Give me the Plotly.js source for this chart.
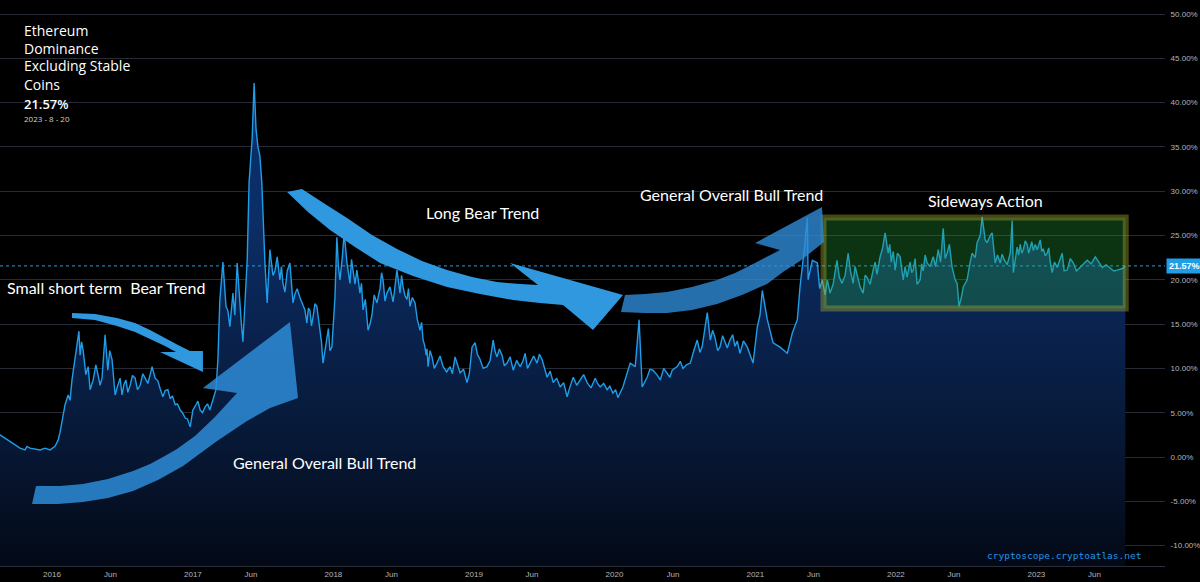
<!DOCTYPE html>
<html>
<head>
<meta charset="utf-8">
<script src="https://cdn.plot.ly/plotly-3.0.1.min.js"></script>
<style>
  html, body { margin: 0; padding: 0; background: #000; }
  #chart { width: 1200px; height: 582px; }
</style>
</head>
<body>
<div id="chart"></div>
<script>
// ETH dominance (excluding stablecoins), %
const d2015 = ['2015-08-19','2015-09-14','2015-10-10','2015-10-23','2015-10-28','2015-11-05','2015-11-18','2015-12-01','2015-12-14','2015-12-27'];
const v2015 = [2.5, 1.7, 1.0, 0.8, 1.2, 1.0, 0.9, 0.8, 1.0, 0.8];

const d2016 = [
  '2016-01-09','2016-01-17','2016-01-22','2016-01-27','2016-02-04','2016-02-12','2016-02-17','2016-02-22','2016-03-01','2016-03-06',
  '2016-03-11','2016-03-14','2016-03-18','2016-03-22','2016-03-29','2016-04-04','2016-04-09','2016-04-17','2016-04-24','2016-05-01',
  '2016-05-05','2016-05-10','2016-05-18','2016-05-25','2016-05-30','2016-06-05','2016-06-09','2016-06-13','2016-06-20','2016-06-26',
  '2016-07-01','2016-07-06','2016-07-11','2016-07-16','2016-07-22','2016-07-28','2016-08-04','2016-08-10','2016-08-17','2016-08-24',
  '2016-08-30','2016-09-06','2016-09-12','2016-09-17','2016-09-25','2016-10-02','2016-10-08','2016-10-15','2016-10-21','2016-10-28',
  '2016-11-03','2016-11-09','2016-11-16','2016-11-22','2016-11-29','2016-12-05','2016-12-12','2016-12-18','2016-12-25'];
const v2016 = [
  1.2, 1.9, 2.8, 4.2, 5.9, 7.0, 6.4, 8.7, 11.0, 12.5,
  14.2, 11.5, 13.0, 12.0, 9.3, 10.2, 7.6, 8.7, 10.4, 9.0,
  8.1, 8.9, 13.8, 9.8, 12.0, 11.0, 9.0, 7.0, 8.1, 8.9,
  7.0, 8.2, 8.7, 7.3, 8.1, 9.2, 8.9, 7.6, 8.1, 9.4,
  8.9, 8.3, 9.3, 10.2, 8.9, 8.6, 7.7, 6.8, 7.5, 7.6,
  6.6, 6.9, 5.9, 6.0, 5.3, 5.0, 4.4, 4.3, 3.4];

const d2017 = [
  '2017-01-01','2017-01-09','2017-01-14','2017-01-20','2017-01-26','2017-02-01','2017-02-08','2017-02-14','2017-02-22','2017-03-02',
  '2017-03-07','2017-03-12','2017-03-20','2017-03-28','2017-04-02','2017-04-07','2017-04-15','2017-04-20','2017-04-26','2017-05-03',
  '2017-05-07','2017-05-11','2017-05-16','2017-05-22','2017-05-27','2017-06-04','2017-06-09','2017-06-14','2017-06-19','2017-06-24',
  '2017-06-29','2017-07-02','2017-07-07','2017-07-13','2017-07-20','2017-07-28','2017-08-02','2017-08-08','2017-08-15','2017-08-19',
  '2017-08-23','2017-08-28','2017-09-03','2017-09-10','2017-09-18','2017-09-23','2017-09-29','2017-10-06','2017-10-14','2017-10-19',
  '2017-10-24','2017-10-28','2017-11-01','2017-11-05','2017-11-09','2017-11-14','2017-11-19','2017-11-23','2017-11-27','2017-12-01',
  '2017-12-05','2017-12-10','2017-12-15','2017-12-19','2017-12-23','2017-12-28'];
const v2017 = [
  5.3, 5.9, 6.3, 5.3, 5.0, 5.6, 6.0, 5.3, 6.4, 7.6,
  11.0, 17.7, 22.0, 17.0, 16.5, 14.7, 18.5, 16.0, 21.9, 17.0,
  15.0, 13.0, 18.0, 22.2, 31.0, 36.0, 42.2, 37.0, 35.0, 34.0,
  31.0, 27.0, 22.0, 17.4, 23.4, 20.5, 21.0, 22.6, 20.0, 21.5,
  19.6, 18.6, 21.0, 21.9, 17.4, 18.4, 19.0, 18.0, 17.0, 16.6,
  15.1, 16.8, 16.5, 14.8, 15.8, 17.3, 17.0, 15.5, 14.0, 13.0,
  10.6, 12.0, 13.5, 14.5, 12.0, 12.4];

const d2018 = [
  '2018-01-05','2018-01-10','2018-01-14','2018-01-18','2018-01-24','2018-01-29','2018-02-05','2018-02-09','2018-02-13','2018-02-17',
  '2018-02-21','2018-02-26','2018-03-03','2018-03-07','2018-03-11','2018-03-15','2018-03-19','2018-03-25','2018-04-01','2018-04-06',
  '2018-04-11','2018-04-17','2018-04-24','2018-05-02','2018-05-06','2018-05-10','2018-05-15','2018-05-20','2018-05-28','2018-06-05',
  '2018-06-10','2018-06-15','2018-06-23','2018-06-27','2018-07-01','2018-07-06','2018-07-11','2018-07-15','2018-07-19','2018-07-25',
  '2018-08-01','2018-08-07','2018-08-14','2018-08-18','2018-08-22','2018-08-26','2018-08-30','2018-09-01','2018-09-04','2018-09-09',
  '2018-09-14','2018-09-20','2018-09-27','2018-10-05','2018-10-13','2018-10-22','2018-10-31','2018-11-06','2018-11-13','2018-11-19',
  '2018-11-26','2018-12-05','2018-12-14','2018-12-20','2018-12-27'];
const v2018 = [
  18.0, 24.8, 21.5, 20.0, 22.5, 25.3, 22.0, 20.5, 19.6, 22.3,
  21.0, 19.5, 21.1, 20.0, 18.5, 19.6, 16.6, 17.8, 14.3, 15.0,
  16.0, 18.3, 17.4, 19.0, 20.8, 20.0, 17.6, 18.5, 19.2, 17.5,
  19.5, 21.1, 18.5, 20.5, 19.2, 18.2, 17.8, 19.0, 17.0, 18.0,
  17.4, 15.5, 14.3, 15.2, 13.2, 12.6, 11.5, 12.2, 10.2, 12.0,
  11.3, 10.0, 10.6, 11.4, 10.2, 9.6, 10.2, 9.4, 11.3, 10.4,
  9.5, 9.9, 8.4, 9.4, 12.4];

const d2019 = [
  '2019-01-04','2019-01-10','2019-01-17','2019-01-25','2019-02-04','2019-02-12','2019-02-20','2019-02-25','2019-03-02','2019-03-08',
  '2019-03-15','2019-03-21','2019-03-28','2019-04-05','2019-04-13','2019-04-22','2019-05-01','2019-05-08','2019-05-14','2019-05-20',
  '2019-05-27','2019-06-05','2019-06-14','2019-06-20','2019-06-27','2019-07-03','2019-07-10','2019-07-18','2019-07-26','2019-08-04',
  '2019-08-13','2019-08-22','2019-08-31','2019-09-08','2019-09-16','2019-09-25','2019-10-04','2019-10-13','2019-10-22','2019-11-01',
  '2019-11-12','2019-11-18','2019-11-25','2019-12-04','2019-12-13','2019-12-20','2019-12-28'];
const v2019 = [
  12.9, 11.6, 11.0, 10.0, 10.2, 10.9, 13.2, 11.9, 11.3, 12.2,
  11.5, 10.3, 10.6, 11.3, 9.8, 10.9, 10.2, 10.8, 11.7, 10.0,
  10.6, 11.4, 10.6, 11.6, 11.0, 10.0, 9.0, 9.7, 8.4, 8.9,
  7.9, 8.4, 6.8, 8.0, 9.0, 8.1, 8.7, 9.3, 8.4, 7.8,
  8.9, 8.3, 7.9, 8.3, 7.6, 8.0, 7.2];

const d2020 = [
  '2020-01-04','2020-01-10','2020-01-17','2020-01-23','2020-02-03','2020-02-11','2020-02-24','2020-03-05','2020-03-13','2020-03-26',
  '2020-04-02','2020-04-10','2020-04-20','2020-04-29','2020-05-08','2020-05-17','2020-05-24','2020-05-30','2020-06-12','2020-06-20',
  '2020-06-27','2020-07-06','2020-07-16','2020-07-25','2020-08-03','2020-08-10','2020-08-16','2020-08-29','2020-09-06','2020-09-12',
  '2020-09-18','2020-09-25','2020-10-01','2020-10-08','2020-10-14','2020-10-20','2020-10-27','2020-11-03','2020-11-09','2020-11-15',
  '2020-11-22','2020-12-01','2020-12-11','2020-12-18','2020-12-26'];
const v2020 = [
  7.6, 6.7, 7.3, 7.9, 9.5, 10.6, 10.2, 15.5, 7.9, 9.0,
  9.9, 9.8, 9.3, 8.7, 10.0, 9.5, 9.0, 9.8, 10.2, 10.8,
  10.0, 10.4, 10.6, 12.0, 13.2, 11.8, 12.5, 16.3, 13.2, 14.3,
  13.5, 12.0, 12.4, 13.7, 13.0, 12.3, 13.2, 13.8, 12.5, 13.1,
  11.7, 13.1, 12.4, 11.5, 10.6];

const d2021 = [
  '2021-01-06','2021-01-13','2021-01-19','2021-01-26','2021-02-01','2021-02-16','2021-03-06','2021-03-25','2021-04-07','2021-04-20',
  '2021-04-27','2021-05-08','2021-05-16','2021-05-18','2021-05-29','2021-06-11','2021-06-17','2021-06-24','2021-07-01','2021-07-07',
  '2021-07-14','2021-07-22','2021-07-27','2021-08-01','2021-08-07','2021-08-14','2021-08-22','2021-08-30','2021-09-05','2021-09-12',
  '2021-09-17','2021-09-22','2021-09-30','2021-10-08','2021-10-13','2021-10-18','2021-10-26','2021-11-03','2021-11-08','2021-11-13',
  '2021-11-21','2021-11-27','2021-12-04','2021-12-12','2021-12-16','2021-12-20','2021-12-25','2021-12-30'];
const v2021 = [
  14.7, 16.0, 18.8, 17.0, 15.5, 12.9, 12.4, 11.7, 14.0, 15.5,
  19.2, 23.4, 27.0, 20.0, 22.2, 21.9, 19.0, 20.0, 18.3, 20.0,
  18.5, 19.5, 21.0, 22.2, 20.3, 19.6, 20.5, 23.0, 21.0, 19.6,
  21.5, 20.5, 19.2, 18.5, 20.5, 20.3, 19.5, 21.1, 22.0, 20.6,
  22.6, 23.5, 25.3, 23.0, 24.0, 22.0, 23.2, 21.1];

const d2022 = [
  '2022-01-05','2022-01-12','2022-01-16','2022-01-20','2022-01-25','2022-01-30','2022-02-07','2022-02-11','2022-02-15','2022-02-20',
  '2022-02-25','2022-03-05','2022-03-09','2022-03-13','2022-03-18','2022-03-23','2022-03-31','2022-04-08','2022-04-14','2022-04-21',
  '2022-04-27','2022-05-04','2022-05-09','2022-05-14','2022-05-20','2022-05-27','2022-06-04','2022-06-09','2022-06-14','2022-06-20',
  '2022-06-25','2022-07-05','2022-07-13','2022-07-18','2022-07-26','2022-07-31','2022-08-08','2022-08-13','2022-08-21','2022-08-26',
  '2022-09-03','2022-09-08','2022-09-16','2022-09-22','2022-09-29','2022-10-04','2022-10-09','2022-10-17','2022-10-25','2022-10-30',
  '2022-11-02','2022-11-07','2022-11-12','2022-11-16','2022-11-20','2022-11-24','2022-11-28','2022-12-03','2022-12-08','2022-12-12',
  '2022-12-16','2022-12-20','2022-12-24','2022-12-29'];
const v2022 = [
  23.0, 22.6, 21.0, 20.0, 21.5, 20.3, 22.0, 20.8, 21.1, 22.4,
  19.5, 20.0, 21.8, 21.0, 22.8, 21.9, 21.5, 22.6, 21.5, 23.4,
  22.0, 25.8, 22.4, 23.0, 24.0, 21.4, 20.0, 19.6, 17.0, 18.0,
  19.2, 20.0, 22.0, 23.0, 22.5, 24.2, 25.0, 27.1, 24.5, 24.2,
  25.0, 25.3, 21.9, 22.8, 21.9, 22.9, 22.3, 21.7, 23.0, 26.7,
  20.8, 22.5, 23.7, 22.8, 24.0, 23.0, 23.4, 24.4, 24.0, 23.0,
  23.7, 24.3, 23.3, 24.0];

const d2023 = [
  '2023-01-03','2023-01-07','2023-01-11','2023-01-15','2023-01-19','2023-01-24','2023-01-29','2023-02-02','2023-02-06','2023-02-11',
  '2023-02-17','2023-02-24','2023-03-02','2023-03-09','2023-03-14','2023-03-22','2023-03-30','2023-04-07','2023-04-15','2023-04-25',
  '2023-05-04','2023-05-13','2023-05-23','2023-06-03','2023-06-12','2023-06-21','2023-07-01','2023-07-12','2023-07-21','2023-07-30',
  '2023-08-14','2023-08-20'];
const v2023 = [
  23.4, 24.0, 24.5, 23.2, 23.5, 22.7, 23.0, 23.6, 22.0, 20.8,
  22.0, 21.4, 22.2, 23.0, 21.0, 21.1, 22.4, 21.9, 21.0, 21.4,
  21.8, 22.2, 21.8, 22.6, 22.0, 21.4, 21.7, 21.3, 21.0, 21.1,
  21.3, 21.57];

const dates = [].concat(d2015, d2016, d2017, d2018, d2019, d2020, d2021, d2022, d2023);
const dominance = [].concat(v2015, v2016, v2017, v2018, v2019, v2020, v2021, v2022, v2023);
const lastValue = dominance[dominance.length - 1];
const lastDate = '2023 - 8 - 20';
const titleLines = ['Ethereum', 'Dominance', 'Excluding Stable', 'Coins'];

const yTickVals = [-10, -5, 0, 5, 10, 15, 20, 25, 30, 35, 40, 45, 50];
const yTickText = yTickVals.map(v => v.toFixed(2) + '%');
const xTickVals = ['2016-01-01','2016-06-01','2017-01-01','2017-06-01','2018-01-01','2018-06-01','2019-01-01','2019-06-01',
                   '2020-01-01','2020-06-01','2021-01-01','2021-06-01','2022-01-01','2022-06-01','2023-01-01','2023-06-01'];
const xTickText = ['2016','Jun','2017','Jun','2018','Jun','2019','Jun','2020','Jun','2021','Jun','2022','Jun','2023','Jun'];

const yMin = -12.3, yMax = 51.58;

// picture pixels -> paper fractions (plot area 1165 x 566)
const W = 1165, H = 566;
const px = x => x / W;
const py = y => 1 - y / H;
function poly(pts) {
  return 'M' + pts.map(p => px(p[0]).toFixed(4) + ',' + py(p[1]).toFixed(4)).join(' L') + ' Z';
}

const arrowSmallBear = [[72,313],[95,314],[117,318],[135,323],[150,330],[165,338],[178,345],[190,351],[203,351],[203,372],
  [160,352],[176,352],[165,346],[150,339],[135,332],[117,326],[95,320],[72,318]];
const arrowLowBull = [[36,486],[60,486],[83,484],[108,479],[133,471],[150,464],[163,457],[177,449],[195,436],[215,417],[237,393],
  [203,388],[290,322],[298,398],[270,408],[247,421],[217,441],[183,466],[158,480],[133,491],[108,498],[83,502],[58,504],[32,504]];
const arrowLongBear = [[287,192],[302,189],[325,204],[347,218],[372,235],[397,249],[422,261],[447,270],[472,277],[497,282],[520,284],[538,285],
  [510,263],[623,295],[593,330],[563,305],[540,303],[513,300],[480,294],[447,287],[413,276],[380,263],[355,247],[330,230],[308,212]];
const arrowHighBull = [[625,295],[645,294],[667,292],[692,287],[717,280],[735,273],[753,264],[780,250],[755,243],[822,207],[824,242],
  [800,261],[783,272],[767,284],[742,295],[717,304],[692,310],[667,313],[645,313],[621,312]];

const traces = [
  {
    x: [dates[0], dates[dates.length - 1]],
    y: [yMin, yMin],
    mode: 'lines',
    line: { width: 0 },
    hoverinfo: 'skip',
    showlegend: false
  },
  {
    x: dates,
    y: dominance,
    type: 'scatter',
    mode: 'lines',
    line: { color: '#1f9de6', width: 1.4 },
    fill: 'tonexty',
    fillcolor: 'rgba(12,40,90,0.8)',
    fillgradient: {
      type: 'vertical',
      start: yMin,
      stop: 28,
      colorscale: [[0, 'rgb(3,9,22)'], [0.35, 'rgb(7,24,54)'], [1, 'rgb(12,46,104)']]
    },
    showlegend: false
  }
];

const labelFont = { family: 'Lato, "Open Sans", sans-serif', size: 16, color: '#ffffff' };
function note(text, x, y) {
  return { text: text, xref: 'paper', yref: 'paper', x: px(x), y: py(y), xanchor: 'center', yanchor: 'middle',
           showarrow: false, font: labelFont };
}
function corner(text, y, font) {
  return { text: text, xref: 'paper', yref: 'paper', x: px(22), y: py(y), xanchor: 'left', yanchor: 'middle',
           showarrow: false, font: font };
}
const titleFont = { family: '"Open Sans", sans-serif', size: 14, color: '#ffffff' };

const axisFont = { family: '"Liberation Sans", sans-serif', size: 8, color: '#b2b5be' };

const layout = {
  width: 1200,
  height: 582,
  paper_bgcolor: '#000000',
  plot_bgcolor: '#000000',
  margin: { l: 0, r: 35, t: 0, b: 16 },
  showlegend: false,
  xaxis: {
    type: 'date',
    range: ['2015-08-19', '2023-12-01'],
    tickvals: xTickVals,
    ticktext: xTickText,
    tickfont: axisFont,
    showgrid: false,
    zeroline: false,
    showline: true,
    linecolor: '#2a2e39',
    ticks: 'outside',
    ticklen: 0,
    tickcolor: '#2a2e39'
  },
  yaxis: {
    side: 'right',
    range: [yMin, yMax],
    tickvals: yTickVals,
    ticktext: yTickText,
    tickfont: axisFont,
    showgrid: true,
    gridcolor: '#262b35',
    gridwidth: 1,
    zeroline: false,
    ticks: 'outside',
    ticklen: 3,
    tickcolor: '#000000'
  },
  shapes: [
    { type: 'line', xref: 'paper', yref: 'y', x0: 0, x1: 1, y0: lastValue, y1: lastValue,
      line: { color: '#1f9de6', width: 1, dash: 'dot' }, layer: 'above' },
    { type: 'rect', xref: 'x', yref: 'y', x0: '2021-06-27', x1: '2023-08-21', y0: 16.76, y1: 27.03,
      fillcolor: 'rgba(40,170,60,0.3)', line: { color: 'rgba(170,170,50,0.4)', width: 6 }, layer: 'above' },
    { type: 'path', xref: 'paper', yref: 'paper', path: poly(arrowSmallBear),
      fillcolor: 'rgba(48,152,222,1)', line: { width: 0 }, layer: 'above' },
    { type: 'path', xref: 'paper', yref: 'paper', path: poly(arrowLowBull),
      fillcolor: 'rgba(46,140,215,0.85)', line: { width: 0 }, layer: 'above' },
    { type: 'path', xref: 'paper', yref: 'paper', path: poly(arrowLongBear),
      fillcolor: 'rgba(48,152,222,1)', line: { width: 0 }, layer: 'above' },
    { type: 'path', xref: 'paper', yref: 'paper', path: poly(arrowHighBull),
      fillcolor: 'rgba(46,140,215,0.8)', line: { width: 0 }, layer: 'above' }
  ],
  annotations: [
    corner(titleLines[0], 30, titleFont),
    corner(titleLines[1], 48, titleFont),
    corner(titleLines[2], 66, titleFont),
    corner(titleLines[3], 85, titleFont),
    corner(lastValue.toFixed(2) + '%', 104,
      { family: '"Open Sans", sans-serif', size: 13, color: '#ffffff', weight: 600 }),
    corner(lastDate, 119, { family: '"Open Sans", sans-serif', size: 8, color: '#d0d0d0' }),
    note('Small short term  Bear Trend', 106, 287),
    note('Long Bear Trend', 482, 212),
    note('General Overall Bull Trend', 731, 194),
    note('Sideways Action', 985, 200),
    note('General Overall Bull Trend', 325, 462),
    { text: 'cryptoscope.cryptoatlas.net', xref: 'paper', yref: 'paper', x: px(1143), y: py(555),
      xanchor: 'right', yanchor: 'middle', showarrow: false,
      font: { family: '"DejaVu Sans Mono", monospace', size: 9.5, color: '#2196e6' } },
    { text: '<b>' + lastValue.toFixed(2) + '%</b>', xref: 'paper', yref: 'y', x: 1.001, y: lastValue,
      xanchor: 'left', yanchor: 'middle', showarrow: false, bgcolor: '#1f9de6', borderpad: 2,
      font: { family: '"Liberation Sans", sans-serif', size: 9, color: '#ffffff' } }
  ]
};

Plotly.newPlot('chart', traces, layout, { displayModeBar: false, staticPlot: true });
</script>
</body>
</html>
